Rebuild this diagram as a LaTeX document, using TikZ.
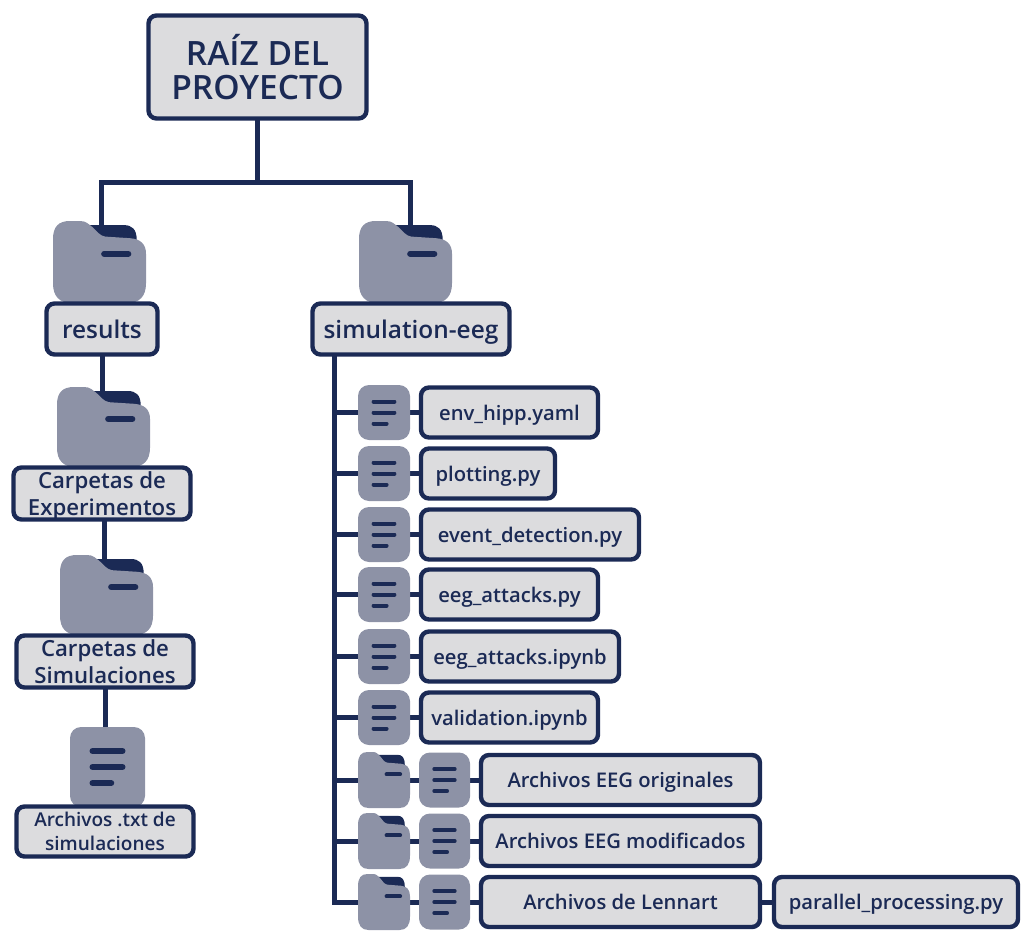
\documentclass[tikz,border=0pt]{standalone}
\usepackage{fontspec}
\setmainfont{Open Sans}[BoldFont=* Semibold]
\usepackage{xcolor}
\usetikzlibrary{positioning,backgrounds}

\definecolor{navyline}{HTML}{1B2A55}
\definecolor{icongray}{HTML}{8D92A6}
\definecolor{boxgray}{HTML}{DCDCDE}

\tikzset{
  labelbox/.style={draw=navyline, line width=4.4pt, rounded corners=8pt, fill=boxgray,
    text=navyline, inner sep=0pt, outer sep=0pt, align=center, text depth=0pt,
    font=\bfseries\fontsize{20.2}{26.5}\selectfont},
  iconbase/.style={inner sep=0pt, outer sep=0pt},
  fileback/.style={iconbase, fill=icongray, rounded corners=11pt},
  iconstroke/.style={navyline, line cap=round},
  link/.style={navyline, line width=5pt}
}

% file icon: name, centre x, centre y, width, height, stroke width
\newcommand{\fileicon}[6]{
  \node[fileback, minimum width=#4pt, minimum height=#5pt] (#1) at (#2,#3) {};
  \begin{scope}[shift={(#2,#3)}, x=#4pt, y=-#5pt]
    \draw[iconstroke, line width=#6pt] (-0.2,-0.2) -- (0.2,-0.2);
    \draw[iconstroke, line width=#6pt] (-0.2,0) -- (0.2,0);
    \draw[iconstroke, line width=#6pt] (-0.2,0.2) -- (0.05,0.2);
  \end{scope}
}

% folder icon: name, centre x, centre y, width, height, stroke width
\newcommand{\foldericon}[6]{
  \node[iconbase, minimum width=#4pt, minimum height=#5pt] (#1) at (#2,#3) {};
  \begin{scope}[shift={(#2,#3)}, x=#4pt, y=-#5pt]
    \fill[navyline] (-0.15,-0.45) -- (0.26,-0.45)
      .. controls (0.35,-0.45) and (0.4,-0.4) .. (0.4,-0.27) -- (0.05,-0.2) -- cycle;
    \fill[icongray] (-0.5,-0.28) .. controls (-0.5,-0.43) and (-0.44,-0.5) .. (-0.32,-0.5)
      -- (-0.21,-0.5) .. controls (-0.14,-0.5) and (-0.12,-0.46) .. (-0.08,-0.43)
      .. controls (-0.03,-0.38) and (0,-0.32) .. (0.06,-0.31)
      -- (0.33,-0.29) .. controls (0.44,-0.28) and (0.5,-0.22) .. (0.5,-0.1)
      -- (0.5,0.26) .. controls (0.5,0.42) and (0.43,0.5) .. (0.3,0.5)
      -- (-0.3,0.5) .. controls (-0.43,0.5) and (-0.5,0.42) .. (-0.5,0.26) -- cycle;
    \draw[iconstroke, line width=#6pt] (0.05,-0.1) -- (0.31,-0.1);
  \end{scope}
}

\begin{document}
\begin{tikzpicture}[x=1pt, y=-1pt]
  \useasboundingbox (0,0) rectangle (1031,950);

  % Folders of the two main branches
  \foldericon{foldres}{99.5}{262}{93}{82}{6}
  \foldericon{foldsim}{405.5}{262}{93}{82}{6}
  \foldericon{foldexp}{103.5}{427}{93}{80}{6}
  \foldericon{foldsimu}{106.5}{595}{93}{80}{6}
  \fileicon{filetxt}{107.5}{767}{75}{80}{6}

  % Main boxes
  \node[labelbox, minimum width=218pt, minimum height=103pt,
    font=\bfseries\fontsize{33.5}{34}\selectfont] (root) at (257.5,67) {RAÍZ DEL\\PROYECTO};
  \node[labelbox, minimum width=111pt, minimum height=51pt,
    font=\bfseries\fontsize{24.4}{26}\selectfont] (results) at (102,329) {results};
  \node[labelbox, minimum width=197pt, minimum height=51pt,
    font=\bfseries\fontsize{24.4}{26}\selectfont] (simeeg) at (411,329) {simulation-eeg};
  \node[labelbox, minimum width=177pt, minimum height=52pt,
    font=\bfseries\fontsize{22.2}{27}\selectfont] (expbox) at (102,493.5) {Carpetas de\\Experimentos};
  \node[labelbox, minimum width=177pt, minimum height=52pt,
    font=\bfseries\fontsize{22.2}{27}\selectfont] (simubox) at (105,661.5) {Carpetas de\\Simulaciones};
  \node[labelbox, minimum width=177pt, minimum height=50pt,
    font=\bfseries\fontsize{19}{24}\selectfont] (txtbox) at (105,831.5) {Archivos .txt de\\simulaciones};

  % Single files, one row each
  \foreach \nm/\y/\w/\lab in {a/412.5/177/{env\_hipp.yaml}, b/473.5/134/{plotting.py},
      c/534.5/218/{event\_detection.py}, d/594.5/177/{eeg\_attacks.py},
      e/656.5/198/{eeg\_attacks.ipynb}, f/717.5/177/{validation.ipynb}} {
    \fileicon{icon\nm}{384}{\y}{52}{55}{4}
    \node[labelbox, minimum width=\w pt, minimum height=50pt, anchor=west] (box\nm) at (421,\y) {\lab};
  }

  % Folders with files
  \foreach \nm/\y/\lab in {g/780/{Archivos EEG originales}, h/841/{Archivos EEG modificados},
      i/902/{Archivos de Lennart}} {
    \foldericon{fold\nm}{384}{\y}{52}{56}{4}
    \fileicon{icon\nm}{444.5}{\y}{51}{55}{4}
    \node[labelbox, minimum width=279pt, minimum height=50pt, anchor=west] (box\nm) at (481,\y) {\lab};
  }
  \node[labelbox, minimum width=244pt, minimum height=50pt, anchor=west] (parbox) at (774,902) {parallel\_processing.py};

  % Connectors
  \begin{scope}[on background layer]
    \coordinate (forky) at (257.5,182);
    \coordinate (trunktop) at (334,354);
    \draw[link, line join=miter] (101,240) |- (forky) -| (410,240);
    \draw[link] (root.south) -- (forky);
    \draw[link] (results.south) -- (results.south |- foldexp.center);
    \draw[link] (expbox.south -| 104,0) -- (foldsimu.center -| 104,0);
    \draw[link] (simubox.south) -- (filetxt.north -| simubox.south);
    \foreach \nm in {a,b,c,d,e,f} {
      \draw[link] (trunktop) |- (icon\nm.west);
      \draw[link] (icon\nm.east) -- (box\nm.west);
    }
    \foreach \nm in {g,h,i} {
      \draw[link] (trunktop) |- (fold\nm.west);
      \draw[link] (fold\nm.east) -- (icon\nm.west);
      \draw[link] (icon\nm.east) -- (box\nm.west);
    }
    \draw[link] (boxi.east) -- (parbox.west);
  \end{scope}
\end{tikzpicture}
\end{document}
